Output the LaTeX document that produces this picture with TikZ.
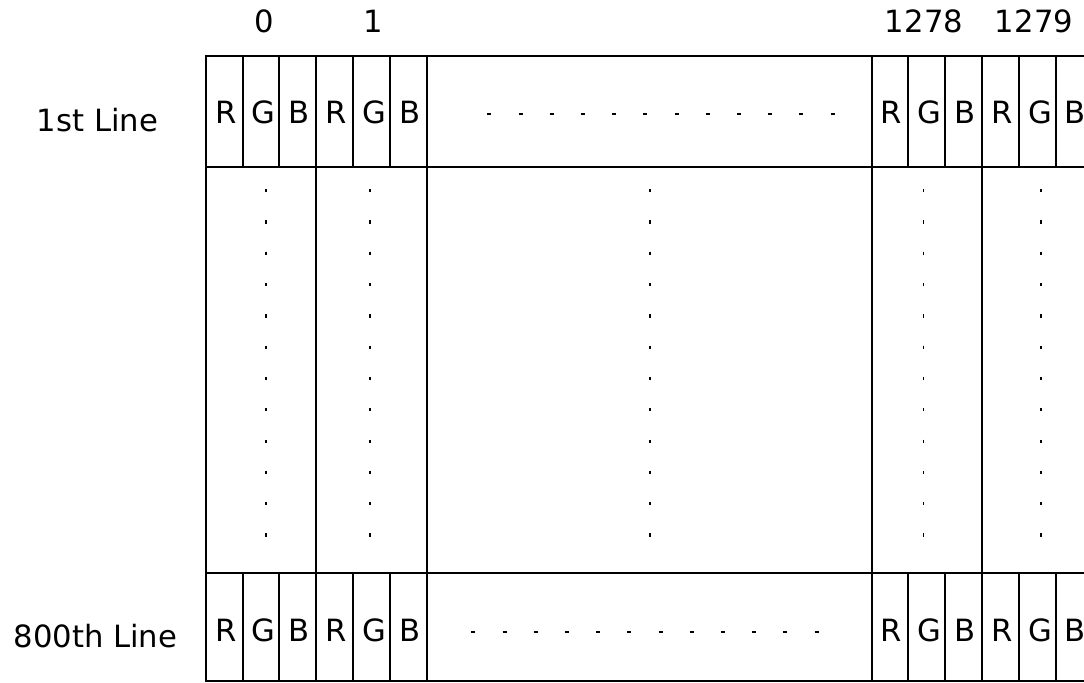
\documentclass[tikz,border=0pt]{standalone}
\usepackage{fontspec}
\setmainfont{DejaVu Sans}
\usepackage{xcolor}
\definecolor{ink}{HTML}{000000}
\tikzset{
  frame/.style={draw=ink, line width=1.5pt},
  lbl/.style={font=\fontsize{23}{27}\selectfont, text=ink, inner sep=0pt, outer sep=0pt},
  vdot/.style={draw=ink, line width=1.2pt},
  hdot/.style={draw=ink, line width=1.3pt}
}
\begin{document}
\begin{tikzpicture}[x=0.75pt,y=-0.75pt]
        \useasboundingbox (0,0) rectangle (1084,682);
        \clip (0,0) rectangle (1084,682);

        % pixel indices
        \foreach \g/\x in {0/264.3,1/373,1278/924,1279/1034} {
          \node[lbl,anchor=base] (idx-\g) at (\x,32.3) {\g};
        }

        % line labels
        \node[lbl,anchor=base] (line-first) at (97.5,131.7) {1st Line};
        \node[lbl,anchor=base] (line-last) at (95.5,647.3) {800th Line};

        % pixel groups: sub-pixel cells in first and last line, column in between
        \foreach \g/\gx/\dx in {0/205.7/266,1/316.1/370,1278/871.5/923.3,1279/981.9/1041} {
          \foreach \c/\lab [count=\i from 0] in {r/R,g/G,b/B} {
            \pgfmathsetmacro{\cx}{\gx+\i*36.8}
            \draw[frame] (\cx,56) rectangle ++(36.8,111);
            \draw[frame] (\cx,573) rectangle ++(36.8,108);
            \node[lbl,anchor=base west] (top-\g-\c) at (\cx+9.3,123.3) {\lab};
            \node[lbl,anchor=base west] (bot-\g-\c) at (\cx+9.3,641.7) {\lab};
          }
          \draw[frame] (\gx,167) rectangle ++(110.4,406);
          \foreach \k in {0,...,11} {
            \pgfmathsetmacro{\yy}{190.7+\k*31.3}
            \draw[vdot] (\dx,\yy-1.6) -- (\dx,\yy+1.6);
          }
        }

        % skipped pixels 2 ... 1277
        \draw[frame] (426.5,56) rectangle (871.5,167);
        \draw[frame] (426.5,167) rectangle (871.5,573);
        \draw[frame] (426.5,573) rectangle (871.5,681);
        \foreach \k in {0,...,11} {
          \pgfmathsetmacro{\xa}{489.3+\k*31.2}
          \pgfmathsetmacro{\xb}{473.3+\k*31.2}
          \pgfmathsetmacro{\yy}{190.7+\k*31.3}
          \draw[hdot] (\xa-2,114) -- (\xa+2,114);
          \draw[hdot] (\xb-2,631.7) -- (\xb+2,631.7);
          \draw[vdot] (650,\yy-1.6) -- (650,\yy+1.6);
        }
\end{tikzpicture}
\end{document}
